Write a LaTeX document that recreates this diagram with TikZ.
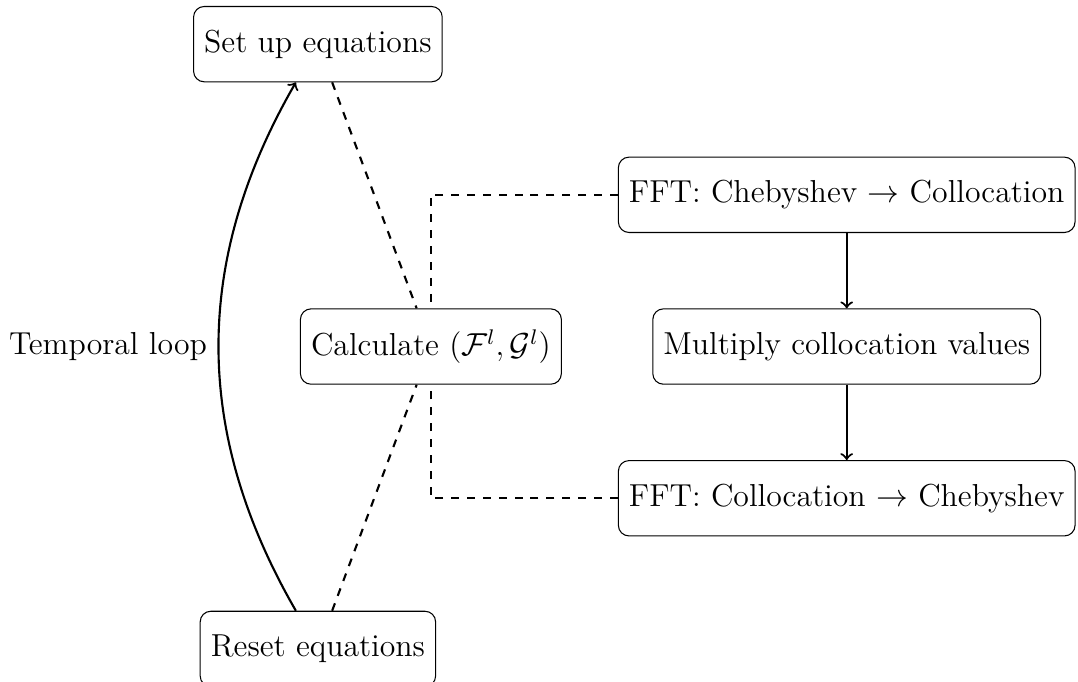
\documentclass[12pt,tikz,border=0pt]{standalone}
\usepackage{tikz}
\usetikzlibrary{positioning}

\begin{document}
\begin{tikzpicture}[
  box/.style={rectangle,draw,rounded corners,
              minimum height=1cm, align=center},
  link/.style={thick,dashed},
  flow/.style={thick,->},
  node distance=1cm,
]
  \useasboundingbox (-5.72,-4.45) rectangle (8.59,4.60);

  %% Main loop
  \node[box](calc){Calculate $(\mathcal{F}^l,\mathcal{G}^l)$};
  \node[box,above=3cm of calc,xshift=-1.5cm](setup){Set up equations};
  \node[box,below=3cm of calc,xshift=-1.5cm](reset){Reset equations};

  %% Product in collocation space
  \node[box,right=1.2cm of calc](mult){Multiply collocation values};
  \node[box,above=of mult](fftA){FFT: Chebyshev $\rightarrow$ Collocation};
  \node[box,below=of mult](fftB){FFT: Collocation $\rightarrow$ Chebyshev};

  %% Connectors
  \draw[link] (setup) -- (calc);
  \draw[link] (reset) -- (calc);
  \draw[link] (fftA) -| (calc);
  \draw[link] (fftB) -| (calc);
  \draw[flow] (fftA) -- (mult);
  \draw[flow] (mult) -- (fftB);
  \draw[flow] (reset) to[bend left=30] node[left]{Temporal loop} (setup);
\end{tikzpicture}
\end{document}
